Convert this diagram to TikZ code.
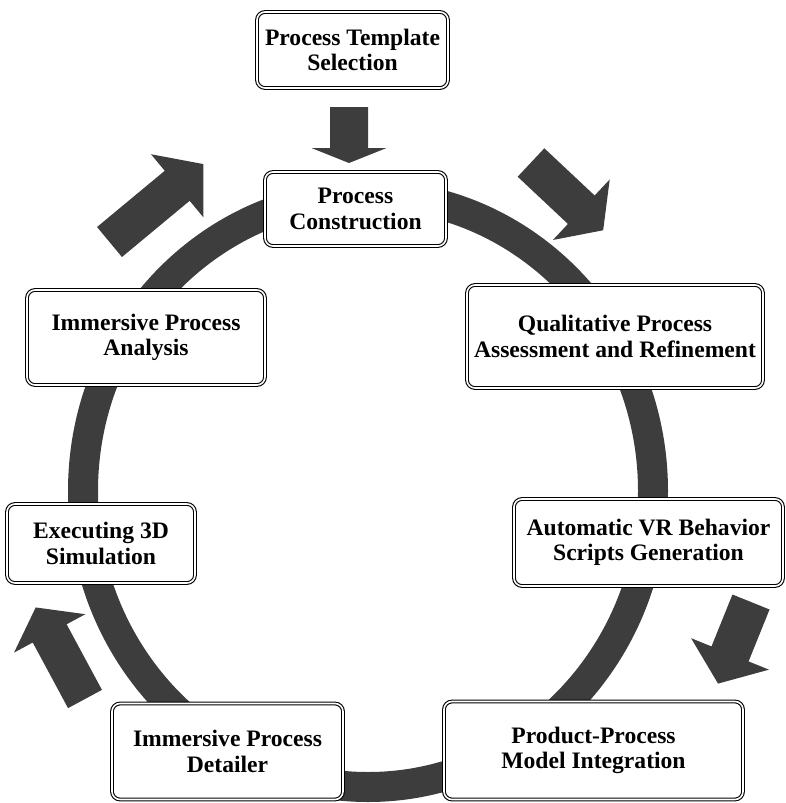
\documentclass[tikz,border=0pt]{standalone}
\usepackage{fontspec}
\setmainfont{Liberation Serif}
\definecolor{ringc}{gray}{0.24}
\newcommand\blockarrow[6]{% #1 back centre, #2 angle, #3 length, #4 shaft width, #5 head width, #6 head length
  \fill[ringc,shift={(#1)},rotate=#2] (0,{-#4/2}) -- ({#3-#6},{-#4/2}) -- ({#3-#6},{-#5/2}) -- (#3,0)
    -- ({#3-#6},{#5/2}) -- ({#3-#6},{#4/2}) -- (0,{#4/2}) -- cycle;}
\begin{document}
\begin{tikzpicture}[x=0.5pt,y=-0.5pt,
  box/.style={draw=black, line width=0.55pt, double=white, double distance=0.8pt,
    rounded corners=4pt, fill=white, align=center, inner sep=0pt,
    font=\fontsize{11.8}{12.6}\selectfont\bfseries},
  ring/.style={draw=ringc, line width=15pt}]
\useasboundingbox (0,0) rectangle (786,803);
% ring
\draw[ring] (368,491) ellipse [x radius=142.5pt, y radius=148pt];
% block arrows
\blockarrow{349,107}{-90}{56}{38}{75}{15}
\blockarrow{531,162.5}{-43.2}{99}{39}{83}{30}
\blockarrow{109.5,242}{39.7}{122}{39}{82}{34}
\blockarrow{85,699}{118.3}{104}{38.5}{81}{29.5}
\blockarrow{751,602}{-112}{88}{40}{84}{32}
% boxes
\node[box, minimum width=95.5pt, minimum height=38pt] (sel) at (352.5,50) {Process Template\\Selection};
\node[box, minimum width=90.5pt, minimum height=37pt] (pc) at (355.5,209) {Process\\Construction};
\node[box, minimum width=119pt, minimum height=47.5pt] (ipa) at (146,337.5) {Immersive Process\\Analysis};
\node[box, minimum width=148pt, minimum height=51.5pt] (qpa) at (615,336.5) {Qualitative Process\\Assessment and Refinement};
\node[box, minimum width=94pt, minimum height=39.5pt] (e3d) at (101,543.5) {Executing 3D\\Simulation};
\node[box, minimum width=134.5pt, minimum height=43.5pt] (avr) at (648.5,542.5) {Automatic VR Behavior\\Scripts Generation};
\node[box, minimum width=115.5pt, minimum height=48pt] (ipd) at (227.5,751.5) {Immersive Process\\Detailer};
\node[box, minimum width=149.5pt, minimum height=49pt] (ppm) at (593.5,750.5) {Product-Process\\Model Integration};
\end{tikzpicture}
\end{document}
